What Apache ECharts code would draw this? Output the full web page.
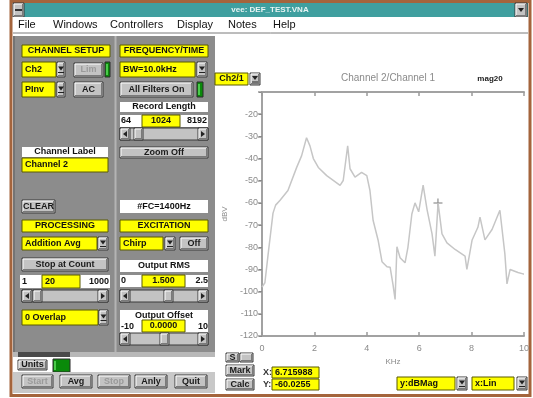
<!DOCTYPE html>
<html>
<head>
<meta charset="utf-8">
<style>
  html, body { margin: 0; padding: 0; background: #ffffff; }
  #chart { width: 533px; height: 398px; }
</style>
<script src="https://cdn.jsdelivr.net/npm/echarts@6/dist/echarts.min.js"></script>
</head>
<body>
<div id="chart"></div>
<script>
// Frequency response trace: Channel 2 / Channel 1 magnitude in dB
const freqKHz = [0.0, 0.11, 0.24, 0.42, 0.52, 0.69, 0.99, 1.32, 1.51, 1.70, 1.83, 1.96, 2.15, 2.47,
  2.98, 3.10, 3.27, 3.36, 3.55, 3.80, 4.00, 4.12, 4.24, 4.43, 4.58, 4.77, 4.89, 5.00, 5.08, 5.15,
  5.27, 5.46, 5.57, 5.72, 5.84, 5.98, 6.15, 6.30, 6.49, 6.60, 6.72, 6.87, 7.06, 7.37, 7.75, 7.82,
  8.02, 8.24, 8.32, 8.51, 8.78, 9.08, 9.27, 9.35, 9.47, 9.77, 9.96, 10.0];
const magDb = [-98, -96, -82.5, -64.6, -61, -58.8, -54.4, -44.1, -38.8, -30.6, -34.3, -40, -44, -47.7,
  -52.1, -49.9, -34.3, -44.6, -48.4, -46.2, -47.7, -54.4, -67.8, -76.7, -86.5, -88.8, -89, -96.8, -103.5, -79.8,
  -84.7, -87, -80, -65, -60, -64, -52, -63, -74, -84, -60, -74, -78, -81, -84, -90,
  -76.7, -71, -66.4, -76.7, -72, -63.3, -83, -96.5, -90, -91.4, -92, -92];
// Cursor readout position
const cursorX = 6.715988;
const cursorY = -60.0255;
// Axis ranges
const xRange = [0, 10, 2];
const yRange = [-120, -10, 10];

const FONT = '"Liberation Sans", Arial, sans-serif';
const PANEL = '#8c8c8c';
const BTN = '#c3c3c3';
const YEL = '#ffff00';
const g = [];

function rect(x, y, w, h, fill, stroke, lw) {
  g.push({ type: 'rect', shape: { x: x, y: y, width: w, height: h },
    style: { fill: fill || 'none', stroke: stroke || null, lineWidth: lw || 1 }, silent: true });
}
function line(x1, y1, x2, y2, color, lw) {
  g.push({ type: 'line', shape: { x1: x1, y1: y1, x2: x2, y2: y2 },
    style: { stroke: color, lineWidth: lw || 1 }, silent: true });
}
function text(x, y, s, opt) {
  opt = opt || {};
  g.push({ type: 'text', x: x, y: y, silent: true, z: 10,
    style: { text: s, fill: opt.color || '#111', textAlign: opt.align || 'left', textVerticalAlign: 'middle',
      font: (opt.weight || 'bold') + ' ' + (opt.size || 9) + 'px ' + FONT } });
}
function tri(cx, cy, dir, color) {
  let pts;
  if (dir === 'down') pts = [[cx - 3, cy - 2], [cx + 3, cy - 2], [cx, cy + 2]];
  else if (dir === 'left') pts = [[cx + 2, cy - 3], [cx + 2, cy + 3], [cx - 2, cy]];
  else pts = [[cx - 2, cy - 3], [cx - 2, cy + 3], [cx + 2, cy]];
  g.push({ type: 'polygon', shape: { points: pts }, style: { fill: color || '#222' }, silent: true, z: 10 });
}
function button(x, y, w, h, s, grayed) {
  rect(x, y, w, h, BTN, '#3a3a3a');
  line(x + 1, y + 1, x + w - 1, y + 1, '#ffffff');
  line(x + 1, y + 1, x + 1, y + h - 1, '#ffffff');
  line(x + 1, y + h - 1.5, x + w - 1, y + h - 1.5, '#7a7a7a');
  line(x + w - 1.5, y + 1, x + w - 1.5, y + h - 1, '#7a7a7a');
  if (s) text(x + w / 2, y + h / 2, s, { align: 'center', color: grayed ? '#9a9a9a' : '#1a1a1a' });
}
function yellow(x, y, w, h, s, align) {
  rect(x, y, w, h, YEL, '#5a5a00');
  if (s) text(align === 'left' ? x + 3 : x + w / 2, y + h / 2, s, { align: align === 'left' ? 'left' : 'center' });
}
function white(x, y, w, h, s) {
  rect(x, y, w, h, '#ffffff');
  if (s) text(x + w / 2, y + h / 2, s, { align: 'center' });
}
function dropArrow(x, y, w, h) {
  button(x, y, w, h);
  tri(x + w / 2, y + h / 2 - 1, 'down');
  line(x + w / 2 - 3, y + h / 2 + 3, x + w / 2 + 3, y + h / 2 + 3, '#222');
}
function scrollbar(x, y, w, h, thumbAt) {
  rect(x, y, w, h, BTN, '#3a3a3a');
  button(x, y, 10, h); tri(x + 5, y + h / 2, 'left');
  button(x + w - 10, y, 10, h); tri(x + w - 5, y + h / 2, 'right');
  button(x + thumbAt, y, 9, h);
}
function green(x, y, w, h) {
  rect(x, y, w, h, '#0a8a0a', '#2a2a2a');
  line(x + 2, y + 2, x + 2, y + h - 2, '#60e060', 1.5);
}

// ---- window frame, title bar and menu ----
rect(11, 1.5, 519, 394, '#ffffff', '#a4643c', 3);
rect(13, 3, 515, 14, '#3f9f9f');
button(13, 3, 11, 14); line(15, 10, 22, 10, '#333', 2);
button(515, 3, 12, 14); tri(521, 10, 'down');
text(270, 10, 'vee: DEF_TEST.VNA', { align: 'center', color: '#e8f4f4', size: 8 });
rect(13, 17, 515, 16, '#ffffff');
line(13, 33, 528, 33, '#7a7a7a');
[['File', 18], ['Windows', 53], ['Controllers', 110], ['Display', 177], ['Notes', 228], ['Help', 273]]
  .forEach(function (m) { text(m[1], 25, m[0], { weight: 'normal', size: 11 }); });

// ---- control panel ----
rect(13, 36, 202, 320, PANEL);
line(115.5, 36, 115.5, 356, '#b4b4b4', 2);
line(14, 36, 14, 356, '#5c5c5c');

// channel setup column
yellow(22, 45, 88, 12, 'CHANNEL SETUP');
yellow(22, 62, 34, 15, 'Ch2', 'left'); dropArrow(57, 62, 8, 15);
button(74, 63, 29, 14, 'Lim', true); green(105, 62, 5, 15);
yellow(22, 82, 33, 15, 'PInv', 'left'); dropArrow(57, 82, 8, 15);
button(74, 82, 29, 15, 'AC');
white(22, 147, 86, 10, 'Channel Label');
yellow(22, 158, 86, 14, 'Channel 2', 'left');
button(22, 200, 33, 13, 'CLEAR');

// frequency/time column
yellow(120, 45, 88, 12, 'FREQUENCY/TIME');
yellow(120, 62, 75, 15, 'BW=10.0kHz', 'left'); dropArrow(197, 62, 10, 15);
button(120, 82, 73, 15, 'All Filters On'); green(197, 82, 6, 15);
white(120, 102, 88, 10, 'Record Length');
rect(120, 115, 88, 12, '#ffffff');
text(121, 121, '64'); yellow(142, 115, 38, 12, '1024'); text(207, 121, '8192', { align: 'right' });
scrollbar(120, 128, 88, 12, 14);
button(120, 147, 88, 11, 'Zoom Off');
white(120, 200, 88, 13, '#FC=1400Hz');

// processing column
yellow(22, 220, 86, 12, 'PROCESSING');
yellow(22, 237, 75, 13, 'Addition Avg', 'left'); dropArrow(98, 237, 10, 13);
button(22, 258, 86, 13, 'Stop at Count');
rect(20, 275, 90, 13, '#ffffff');
text(22, 281.5, '1'); yellow(42, 275, 38, 13, '20', 'left'); text(109, 281.5, '1000', { align: 'right' });
scrollbar(22, 290, 86, 12, 11);
yellow(22, 310, 76, 15, '0 Overlap', 'left'); dropArrow(99, 310, 9, 15);

// excitation column
yellow(120, 220, 88, 12, 'EXCITATION');
yellow(120, 237, 43, 13, 'Chirp', 'left'); dropArrow(165, 237, 10, 13);
button(180, 237, 28, 13, 'Off');
white(120, 260, 88, 12, 'Output RMS');
rect(120, 275, 88, 12, '#ffffff');
text(121, 281, '0'); yellow(142, 275, 43, 12, '1.500'); text(208, 281, '2.5', { align: 'right' });
scrollbar(120, 290, 88, 12, 44);
white(120, 310, 88, 11, 'Output Offset');
rect(120, 321, 88, 12, '#ffffff');
text(121, 327, '-10'); yellow(142, 320, 43, 12, '0.0000'); text(208, 327, '10', { align: 'right' });
scrollbar(120, 333, 88, 12, 40);

// panel scroll strip and bottom button row
rect(13, 352, 202, 5, '#b8b8b8'); rect(18, 352, 52, 5, '#4a4a4a');
rect(13, 357, 202, 15, '#ffffff');
button(18, 360, 29, 10, 'Units'); green(53, 359, 17, 13);
rect(13, 372, 202, 21, '#c8c8c8');
button(22, 375, 31, 13, 'Start', true);
button(60, 375, 32, 13, 'Avg');
button(98, 375, 32, 13, 'Stop', true);
button(135, 375, 32, 13, 'Anly');
button(175, 375, 32, 13, 'Quit');

// ---- display controls around the graph ----
yellow(215, 73, 33, 12, 'Ch2/1'); dropArrow(250, 73, 10, 12);
text(388, 78, 'Channel 2/Channel 1', { weight: 'normal', size: 10, align: 'center', color: '#8a8a8a' });
text(490, 79, 'mag20', { size: 8, align: 'center', color: '#222' });
button(226, 353, 13, 9, 'S'); button(240, 353, 13, 9, '');
button(226, 365, 28, 11, 'Mark');
button(226, 379, 28, 11, 'Calc');
text(263, 373, 'X:', { color: '#333' });
yellow(272, 367, 47, 11, String(cursorX), 'left');
text(263, 385, 'Y:', { color: '#333' });
yellow(272, 379, 47, 11, String(cursorY), 'left');
yellow(397, 377, 58, 13, 'y:dBMag', 'left'); dropArrow(457, 377, 10, 13);
yellow(472, 377, 42, 13, 'x:Lin', 'left'); dropArrow(517, 377, 10, 13);

const chart = echarts.init(document.getElementById('chart'), null, { renderer: 'canvas' });
const axisLine = { show: true, lineStyle: { color: '#a2a2a2', width: 2 } };
const tick = { show: true, inside: true, length: 4, lineStyle: { color: '#9a9a9a', width: 1.5 } };
chart.setOption({
  backgroundColor: '#ffffff',
  animation: false,
  graphic: { elements: g },
  grid: { left: 262, right: 9, top: 92, bottom: 62, show: false },
  xAxis: [
    { type: 'value', min: xRange[0], max: xRange[1], interval: xRange[2], position: 'bottom',
      name: 'KHz', nameLocation: 'middle', nameGap: 17,
      nameTextStyle: { color: '#8a8a8a', fontSize: 8, fontFamily: FONT },
      axisLine: axisLine, axisTick: tick, splitLine: { show: false },
      axisLabel: { color: '#8a8a8a', fontSize: 9, fontFamily: FONT, margin: 8 } },
    { type: 'value', min: xRange[0], max: xRange[1], interval: xRange[2], position: 'top',
      axisLine: axisLine, axisTick: tick, splitLine: { show: false }, axisLabel: { show: false } }
  ],
  yAxis: [
    { type: 'value', min: yRange[0], max: yRange[1], interval: yRange[2], position: 'left',
      name: 'dBV', nameLocation: 'middle', nameGap: 33, nameRotate: 90,
      nameTextStyle: { color: '#8a8a8a', fontSize: 8, fontFamily: FONT },
      axisLine: axisLine, axisTick: { show: true, inside: false, length: 3, lineStyle: { color: '#555' } },
      splitLine: { show: false },
      axisLabel: { color: '#8a8a8a', fontSize: 9, fontFamily: FONT, margin: 4,
        formatter: function (v) { return v === yRange[1] ? '' : String(v); } } },
    { type: 'value', min: yRange[0], max: yRange[1], interval: yRange[2], position: 'right',
      axisLine: axisLine, axisTick: tick, splitLine: { show: false }, axisLabel: { show: false } }
  ],
  series: [
    { type: 'line', xAxisIndex: 0, yAxisIndex: 0, symbol: 'none', silent: true,
      lineStyle: { color: '#c6c6c6', width: 1.5 },
      data: freqKHz.map(function (f, i) { return [f, magDb[i]]; }) },
    { type: 'scatter', xAxisIndex: 0, yAxisIndex: 0, silent: true, symbolSize: 9,
      symbol: 'path://M4,0h1v4h4v1h-4v4h-1v-4h-4v-1h4z',
      itemStyle: { color: '#555555' },
      data: [[cursorX, cursorY]] }
  ]
});
</script>
</body>
</html>
